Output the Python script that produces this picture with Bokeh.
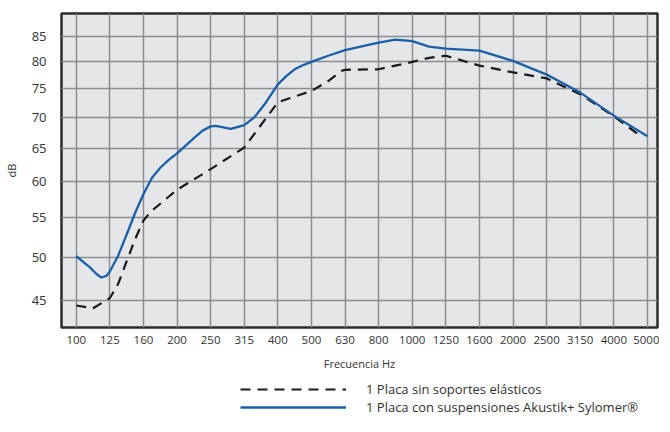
from bokeh.plotting import figure
from bokeh.layouts import column
from bokeh.models import FixedTicker, Legend, LegendItem, PrintfTickFormatter
from bokeh.embed import file_html
from bokeh.resources import INLINE

# Third-octave band labels (evenly spaced categories)
freq_labels = ["100", "125", "160", "200", "250", "315", "400", "500", "630",
               "800", "1000", "1250", "1600", "2000", "2500", "3150", "4000", "5000"]

# Series 1: 1 Placa sin soportes elásticos (band index position, dB)
sin_pos = [0, 0.5, 1, 1.25, 1.5, 1.75, 2, 2.22, 3, 4, 5, 6, 7, 7.5, 7.9, 8, 9,
           10, 10.5, 11, 12, 13, 14, 15, 16, 16.85]
sin_db = [44.5, 44.2, 45.3, 46.9, 49.5, 52.2, 54.6, 55.8, 58.8, 61.8, 65.1, 72.6,
          74.6, 76.4, 78.3, 78.5, 78.6, 80.0, 80.8, 81.2, 79.3, 78.0, 76.9, 74.0,
          70.2, 66.7]

# Series 2: 1 Placa con suspensiones Akustik+ Sylomer®
con_pos = [0, 0.4, 0.6, 0.75, 0.9, 1, 1.25, 1.5, 1.75, 2, 2.25, 2.5, 2.75, 3,
           3.5, 3.76, 4, 4.15, 4.6, 5, 5.3, 5.65, 6, 6.25, 6.5, 6.75, 7, 7.5, 8,
           9, 9.5, 10, 10.5, 11, 12, 13, 14, 15, 16, 17]
con_db = [50.1, 48.8, 48.0, 47.6, 47.8, 48.3, 50.2, 52.8, 55.6, 58.2, 60.5, 62.0,
          63.2, 64.2, 66.6, 67.8, 68.5, 68.6, 68.1, 68.7, 70.0, 72.6, 75.8, 77.3,
          78.6, 79.4, 80.0, 81.2, 82.3, 83.8, 84.4, 84.1, 83.0, 82.6, 82.2, 80.2,
          77.6, 74.3, 70.3, 66.9]

y_ticks = [45, 50, 55, 60, 65, 70, 75, 80, 85]

x_title = "Frecuencia Hz"
y_title = "dB"
sin_name = "1 Placa sin soportes elásticos"
con_name = "1 Placa con suspensiones Akustik+ Sylomer®"

FONT = "Open Sans"
TXT = "#333333"
SIN_STYLE = dict(line_color="#1a1a1a", line_width=2.2, line_dash="10 7")
CON_STYLE = dict(line_color="#1a5fa8", line_width=2.3)

p = figure(frame_width=596, frame_height=314, y_axis_type="log",
           x_range=(-0.44, 17.30), y_range=(42.2, 89.9),
           output_backend="svg", toolbar_location=None,
           min_border_left=56, min_border_right=2, min_border_top=13,
           min_border_bottom=48)

p.background_fill_color = "#e5e6e8"
p.border_fill_color = "white"
p.outline_line_color = "#2b2b2b"
p.outline_line_width = 2.5

xt = FixedTicker(ticks=list(range(len(freq_labels))))
yt = FixedTicker(ticks=y_ticks)

p.xgrid.ticker = xt
p.ygrid.ticker = yt
for g in (p.xgrid, p.ygrid):
    g.grid_line_color = "#8b8c92"
    g.grid_line_width = 1.5
    g.grid_line_alpha = 1.0

p.xaxis.ticker = xt
p.xaxis.major_label_overrides = {i: lab for i, lab in enumerate(freq_labels)}
p.yaxis.ticker = yt
p.yaxis.formatter = PrintfTickFormatter(format="%d")

for ax in (p.xaxis, p.yaxis):
    ax.axis_line_color = None
    ax.major_tick_line_color = None
    ax.minor_tick_line_color = None
    ax.major_label_text_font = FONT
    ax.major_label_text_color = TXT
    ax.axis_label_text_font = FONT
    ax.axis_label_text_color = TXT
    ax.axis_label_text_font_style = "normal"
    ax.axis_label_text_font_size = "11px"

p.xaxis.major_label_text_font_size = "11.5px"
p.xaxis.major_label_standoff = 2
p.xaxis.axis_label = x_title
p.xaxis.axis_label_standoff = 9

p.yaxis.major_label_text_font_size = "13px"
p.yaxis.major_label_standoff = 9
p.yaxis.axis_label = y_title
p.yaxis.axis_label_standoff = 10

p.line(sin_pos, sin_db, line_join="round", **SIN_STYLE)
p.line(con_pos, con_db, line_join="round", **CON_STYLE)

# Legend strip below the chart (key renderers sit outside the strip's range)
pl = figure(width=654, height=41, x_range=(0, 1), y_range=(0, 1),
            output_backend="svg", toolbar_location=None,
            x_axis_location=None, y_axis_location=None,
            min_border=0)
pl.outline_line_color = None
pl.xgrid.visible = False
pl.ygrid.visible = False
pl.background_fill_color = "white"
pl.border_fill_color = "white"
l_sin = pl.line([-5, -4], [-5, -5], **SIN_STYLE)
l_con = pl.line([-5, -4], [-5, -5], **CON_STYLE)

legend = Legend(items=[LegendItem(label=sin_name, renderers=[l_sin]),
                       LegendItem(label=con_name, renderers=[l_con])],
                location=(179, 0), orientation="vertical",
                glyph_width=106, glyph_height=16, label_height=16,
                label_standoff=20, spacing=0, padding=0, margin=0,
                background_fill_alpha=0, border_line_alpha=0,
                label_text_font=FONT, label_text_font_size="13px",
                label_text_color=TXT)
pl.add_layout(legend, "center")

layout = column(p, pl, spacing=0)
open("out.html", "w").write(file_html(layout, INLINE))
